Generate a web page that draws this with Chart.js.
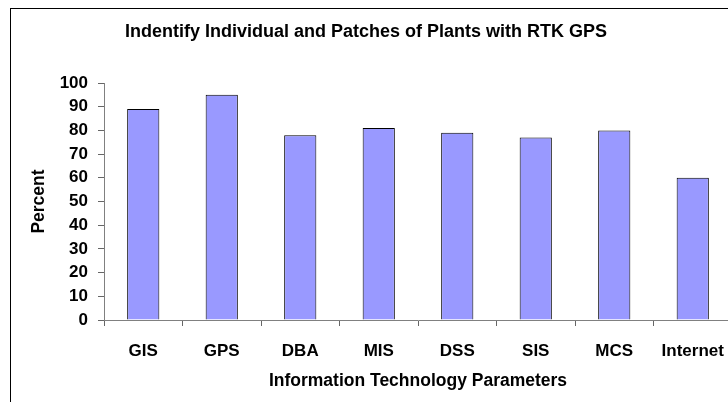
<!DOCTYPE html>
<html>
<head>
<meta charset="utf-8">
<script src="https://cdn.jsdelivr.net/npm/chart.js@4/dist/chart.umd.min.js"></script>
<style>
  html, body { margin: 0; padding: 0; background: #fff; overflow: hidden; }
  #wrap { position: absolute; left: 0; top: 0; width: 760px; height: 402px; }
</style>
</head>
<body>
<div id="wrap"><canvas id="c"></canvas></div>
<script>
const categories = ["GIS", "GPS", "DBA", "MIS", "DSS", "SIS", "MCS", "Internet"];
const percentValues = [89, 95, 78, 81, 79, 77, 80, 60];
const chartTitle = "Indentify Individual and Patches of Plants with RTK GPS";
const xAxisTitle = "Information Technology Parameters";
const yAxisTitle = "Percent";

const FONT = "'Liberation Sans', Arial, sans-serif";

const borderPlugin = {
  id: 'outerBorder',
  beforeDraw(chart) {
    const ctx = chart.ctx;
    ctx.save();
    ctx.fillStyle = '#ffffff';
    ctx.fillRect(0, 0, chart.width, chart.height);
    ctx.strokeStyle = '#000000';
    ctx.lineWidth = 1;
    ctx.strokeRect(10.5, 8.5, 900, 600);
    ctx.restore();
  }
};

new Chart(document.getElementById('c'), {
  type: 'bar',
  data: {
    labels: categories,
    datasets: [{
      data: percentValues,
      backgroundColor: '#9999FF',
      borderColor: '#000000',
      borderWidth: 1,
      barPercentage: 0.41,
      categoryPercentage: 1.0
    }]
  },
  options: {
    responsive: true,
    maintainAspectRatio: false,
    animation: false,
    devicePixelRatio: 1,
    layout: { padding: { left: 0, right: 28, top: 0, bottom: 0 } },
    plugins: {
      legend: { display: false },
      tooltip: { enabled: false },
      title: {
        display: true,
        text: chartTitle,
        color: '#000',
        font: { family: FONT, size: 18, weight: 'bold' },
        padding: { top: 21.2, bottom: 40.2 }
      }
    },
    scales: {
      x: {
        offset: true,
        grid: {
          offset: true,
          drawOnChartArea: false,
          drawTicks: true,
          tickLength: 6,
          color: '#666666'
        },
        border: { display: true, color: '#808080', width: 1 },
        ticks: {
          color: '#000',
          font: { family: FONT, size: 17, weight: 'bold' },
          padding: 14.8,
          maxRotation: 0,
          autoSkip: false
        },
        title: {
          display: true,
          text: xAxisTitle,
          color: '#000',
          font: { family: FONT, size: 17.5, weight: 'bold' },
          padding: { top: 0, bottom: 10.5 }
        },
        afterFit(scale) { scale.height = 82; }
      },
      y: {
        min: 0,
        max: 100,
        grid: {
          drawOnChartArea: false,
          drawTicks: true,
          tickLength: 6,
          color: '#666666'
        },
        border: { display: true, color: '#808080', width: 1 },
        ticks: {
          stepSize: 10,
          color: '#000',
          font: { family: FONT, size: 17, weight: 'bold' },
          padding: 10
        },
        title: {
          display: true,
          text: yAxisTitle,
          color: '#000',
          font: { family: FONT, size: 17.5, weight: 'bold' },
          padding: { top: 28.5, bottom: 0 }
        },
        afterFit(scale) { scale.width = 104; }
      }
    }
  },
  plugins: [borderPlugin]
});
</script>
</body>
</html>
